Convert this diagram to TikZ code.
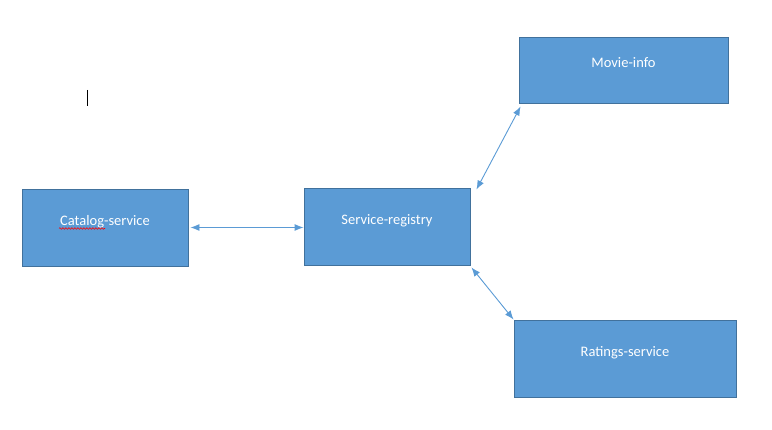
\documentclass[tikz,border=0pt]{standalone}
\usepackage{fontspec}
\setmainfont{Carlito}
\usetikzlibrary{arrows.meta,calc,decorations.pathmorphing}
\definecolor{boxfill}{HTML}{5B9BD5}
\definecolor{boxline}{HTML}{41719C}
\begin{document}
\begin{tikzpicture}[x=1pt,y=-1pt,
  svcbox/.style={draw=boxline,fill=boxfill,line width=0.9pt,inner sep=0pt,rectangle},
  svclabel/.style={text=white,font=\fontsize{14.5}{17}\selectfont,inner sep=0pt,text height=0.75em,text depth=0.22em},
  link/.style={draw=boxfill,line width=0.9pt,{Latex[length=9pt,width=7pt]}-{Latex[length=9pt,width=7pt]}}]
\useasboundingbox (0,0) rectangle (772,430);
\node[svcbox,minimum width=209pt,minimum height=66pt] (mi) at (623.5,70) {};
\node[svcbox,minimum width=166pt,minimum height=77pt] (cat) at (105,227.5) {};
\node[svcbox,minimum width=166pt,minimum height=77pt] (reg) at (387,226.5) {};
\node[svcbox,minimum width=222pt,minimum height=77pt] (rat) at (625,358.5) {};
\node[svclabel] (milab) at ($(mi.center)+(0,-5)$) {Movie-info};
\node[svclabel] (catlab) at ($(cat.center)+(0,-4.5)$) {Catalog-service};
\node[svclabel] (reglab) at ($(reg.center)+(0,-4.5)$) {Service-registry};
\node[svclabel] (ratlab) at ($(rat.center)+(0,-4.5)$) {Ratings-service};
\coordinate (sq1) at (59,228.5);
\coordinate (sq2) at (105,228.5);
\draw[red,line width=0.6pt,decorate,decoration={snake,amplitude=0.8pt,segment length=3pt}] (sq1) -- (sq2);
\draw[link] ($(cat.east)+(2,0)$) -- ($(reg.west)+(0,1)$);
\draw[link] ($(reg.north east)+(6,2)$) -- ($(mi.south west)+(2,3)$);
\draw[link] ($(reg.south east)+(1,2)$) -- (rat.north west);
\coordinate (cur1) at (87,90);
\coordinate (cur2) at (87,106);
\draw[black,line width=1pt] (cur1) -- (cur2);
\end{tikzpicture}
\end{document}
